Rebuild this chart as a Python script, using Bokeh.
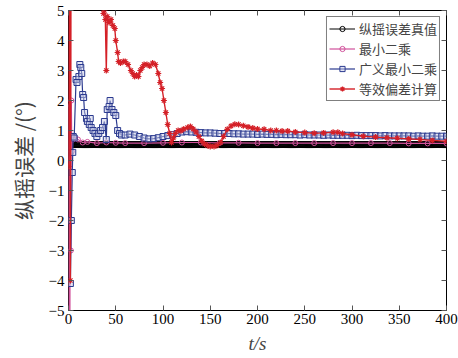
from bokeh.plotting import figure
from bokeh.models import Range1d, LinearAxis, Legend, LegendItem, FixedTicker
from bokeh.embed import file_html
from bokeh.resources import INLINE

# ---------------- data ----------------
x_ticks = [0, 50, 100, 150, 200, 250, 300, 350, 400]
y_ticks = [-5, -4, -3, -2, -1, 0, 1, 2, 3, 4, 5]

legend_labels = ["纵摇误差真值", "最小二乘", "广义最小二乘", "等效偏差计算"]

# true pitch error (constant)
true_value = 0.53
t_true = list(range(0, 401, 1))
v_true = [true_value for _ in t_true]

# least squares
t_ls = [0, 0.5, 1, 1.5, 2, 2.5, 3, 3.5, 4, 5, 7, 10, 15, 20, 30, 40, 50, 60, 80, 100, 120,
        140, 160, 180, 200, 220, 240, 260, 280, 300, 320, 340, 360, 380, 400]
v_ls = [1.9, -5.5, 6.0, -6.0, 5.5, -3.0, 2.0, 0.3, 0.8, 0.7, 0.75, 0.7, 0.6, 0.62, 0.58, 0.6,
        0.59, 0.58, 0.58, 0.59, 0.6, 0.6, 0.59, 0.59, 0.58, 0.58, 0.58, 0.58, 0.58, 0.58,
        0.58, 0.58, 0.57, 0.57, 0.57]

# generalized least squares
t_gls = [2, 3, 4, 4.5, 5, 6, 8, 9, 11, 12, 13, 14, 15, 16, 17, 19, 20, 22, 23, 24, 26, 28,
         30, 32, 34, 36, 38, 40, 41, 43, 44, 46, 48, 50, 52, 54, 56, 60, 65, 70, 75, 80, 85,
         90, 95, 100, 105, 110, 115, 120, 125, 130, 135, 140, 145, 150, 155, 160, 165, 170,
         175, 180, 185, 190, 195, 200, 205, 210, 215, 220, 225, 230, 235, 240, 245, 250, 255,
         260, 265, 270, 275, 280, 285, 290, 295, 300, 305, 310, 315, 320, 325, 330, 335, 340,
         345, 350, 355, 360, 365, 370, 375, 380, 385, 390, 395, 400]
v_gls = [-4.1, -2.0, -0.4, 0.27, 0.8, 0.75, 2.7, 2.6, 2.8, 3.2, 3.1, 2.9, 2.2, 2.1, 1.6, 1.4,
         1.3, 1.2, 1.4, 1.1, 1.0, 0.9, 0.8, 0.9, 1.0, 1.1, 1.3, 0.7, 1.7, 1.8, 2.0, 1.7, 1.6,
         1.5, 1.0, 0.9, 0.85, 0.85, 0.88, 0.85, 0.8, 0.75, 0.72, 0.73, 0.76, 0.8, 0.83, 0.86,
         0.9, 0.95, 0.96, 0.95, 0.94, 0.93, 0.92, 0.92, 0.91, 0.9, 0.9, 0.9, 0.89, 0.89, 0.88,
         0.88, 0.88, 0.87, 0.88, 0.87, 0.87, 0.86, 0.87, 0.86, 0.86, 0.86, 0.85, 0.86, 0.85,
         0.85, 0.85, 0.84, 0.85, 0.84, 0.84, 0.84, 0.84, 0.83, 0.84, 0.83, 0.83, 0.83, 0.83,
         0.82, 0.83, 0.82, 0.82, 0.82, 0.82, 0.82, 0.81, 0.82, 0.81, 0.81, 0.82, 0.81, 0.81,
         0.81]

# equivalent deviation calculation
t_eq = [0, 1, 2, 3, 10, 20, 30, 35, 37, 38, 39, 40, 41, 43, 45, 47, 49, 50, 52, 53, 55, 58,
        60, 63, 66, 68, 70, 72, 74, 76, 78, 80, 83, 86, 89, 92, 95, 97, 99, 101, 103, 105,
        107, 109, 111, 113, 116, 119, 122, 126, 129, 132, 135, 138, 141, 144, 147, 150, 154,
        157, 161, 164, 168, 172, 176, 180, 185, 190, 195, 200, 207, 214, 220, 226, 232, 240,
        250, 260, 270, 280, 285, 290, 300, 312, 325, 337, 348, 360, 372, 385, 400]
v_eq = [-0.2, 8.0, -4.0, 12.0, 10.0, 9.0, 8.0, 5.5, 4.9, 5.0, 4.7, 3.0, 4.8, 4.6, 4.7, 4.5,
        4.4, 4.0, 3.6, 3.3, 3.25, 3.3, 3.3, 3.2, 3.0, 2.9, 2.8, 2.85, 2.8, 3.0, 3.1, 3.2, 3.2,
        3.15, 3.25, 3.2, 2.9, 2.6, 2.4, 2.0, 1.6, 1.2, 0.9, 0.6, 0.75, 0.9, 1.0, 0.99, 1.05,
        1.1, 1.13, 1.05, 0.95, 0.8, 0.65, 0.55, 0.5, 0.47, 0.47, 0.5, 0.6, 0.8, 1.04, 1.15,
        1.21, 1.2, 1.16, 1.12, 1.08, 1.05, 1.04, 1.0, 1.0, 0.98, 0.98, 0.95, 0.93, 0.91, 0.92,
        0.94, 0.94, 0.9, 0.86, 0.81, 0.78, 0.76, 0.74, 0.72, 0.7, 0.67, 0.64]

# ---------------- figure ----------------
p = figure(width=458, height=358, output_backend="svg", toolbar_location=None,
           x_range=Range1d(0, 400), y_range=Range1d(-5, 5),
           min_border_left=68, min_border_right=12, min_border_top=10, min_border_bottom=48)
p.background_fill_color = "white"
p.border_fill_color = "white"
p.outline_line_color = "black"
p.outline_line_width = 1
p.xgrid.visible = False
p.ygrid.visible = False

c_true = "black"
c_ls = "#d0509a"
c_gls = "#2b3a8f"
c_eq = "#d42027"

r1l = p.line(t_true, v_true, line_color=c_true, line_width=1)
r1m = p.scatter(t_true, v_true, marker="circle", size=6, line_color=c_true, fill_color=None, line_width=1)

r2l = p.line(t_ls, v_ls, line_color=c_ls, line_width=1.2)
r2m = p.scatter(t_ls, v_ls, marker="circle", size=5, line_color=c_ls, fill_color=None, line_width=1)

r3l = p.line(t_gls, v_gls, line_color=c_gls, line_width=1.2)
r3m = p.scatter(t_gls, v_gls, marker="square", size=6, line_color=c_gls, fill_color="#c8cce8",
                fill_alpha=0.5, line_width=1)

r4l = p.line(t_eq, v_eq, line_color=c_eq, line_width=1.4)
r4m = p.scatter(t_eq, v_eq, marker="asterisk", size=6, line_color=c_eq, line_width=1.2)

tick_font = "Liberation Serif"
for ax in (p.xaxis[0], p.yaxis[0]):
    ax.major_tick_in = 5
    ax.major_tick_out = 0
    ax.minor_tick_line_color = None
    ax.axis_line_color = None
    ax.major_label_text_font = tick_font
    ax.major_label_text_font_size = "15px"
    ax.major_label_text_color = "black"
    ax.major_tick_line_color = "#555555"

p.xaxis[0].ticker = FixedTicker(ticks=x_ticks)
p.yaxis[0].ticker = FixedTicker(ticks=y_ticks)
p.xaxis[0].major_label_standoff = 3
p.yaxis[0].major_label_standoff = 4

p.xaxis[0].axis_label = "t/s"
p.xaxis[0].axis_label_text_font = tick_font
p.xaxis[0].axis_label_text_font_size = "19px"
p.xaxis[0].axis_label_text_font_style = "italic"
p.xaxis[0].axis_label_standoff = 6

p.yaxis[0].axis_label = "纵摇误差 /(°)"
p.yaxis[0].axis_label_text_font = "Noto Sans CJK SC"
p.yaxis[0].axis_label_text_font_size = "21px"
p.yaxis[0].axis_label_text_font_style = "normal"
p.yaxis[0].axis_label_standoff = 8

top_ax = LinearAxis(ticker=FixedTicker(ticks=x_ticks))
right_ax = LinearAxis(ticker=FixedTicker(ticks=y_ticks))
for ax in (top_ax, right_ax):
    ax.major_tick_in = 5
    ax.major_tick_out = 0
    ax.minor_tick_line_color = None
    ax.axis_line_color = None
    ax.major_label_text_font_size = "10px"
    ax.major_label_text_color = None
    ax.major_label_standoff = 0
    ax.major_tick_line_color = "#555555"
p.add_layout(top_ax, "above")
p.add_layout(right_ax, "right")

legend = Legend(items=[
    LegendItem(label=legend_labels[0], renderers=[r1l, r1m]),
    LegendItem(label=legend_labels[1], renderers=[r2l, r2m]),
    LegendItem(label=legend_labels[2], renderers=[r3l, r3m]),
    LegendItem(label=legend_labels[3], renderers=[r4l, r4m]),
], location="top_right")
legend.label_text_font = "Noto Sans CJK SC"
legend.label_text_font_size = "13px"
legend.label_height = 13
legend.glyph_height = 13
legend.glyph_width = 26
legend.spacing = 1
legend.padding = 2
legend.margin = 6
legend.border_line_color = "black"
legend.border_line_width = 1
legend.background_fill_alpha = 1
legend.label_standoff = 4
p.add_layout(legend)

open("out.html", "w").write(file_html(p, INLINE))
